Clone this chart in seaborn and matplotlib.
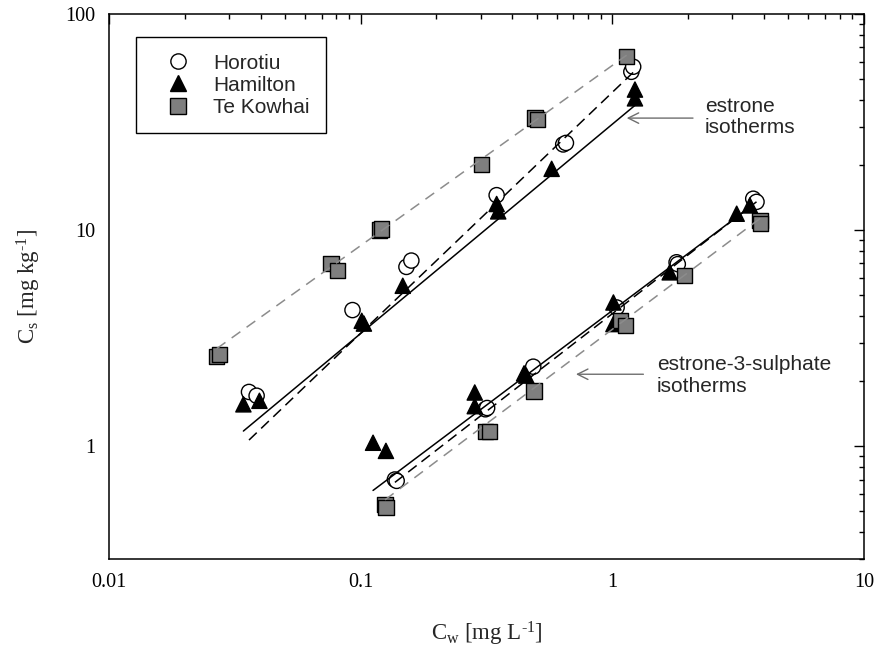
import numpy as np
import pandas as pd
import matplotlib
matplotlib.use("Agg")
import matplotlib.pyplot as plt
import matplotlib.ticker as mticker
from matplotlib.lines import Line2D
import seaborn as sns

# ---- measured sorption data: Cw [mg/L], Cs [mg/kg] ----
# estrone
hor_e1_cw = [0.036, 0.0386, 0.0928, 0.152, 0.159, 0.347, 0.638, 0.654, 1.19, 1.21]
hor_e1_cs = [1.78, 1.71, 4.26, 6.75, 7.22, 14.5, 24.9, 25.3, 54.0, 57.0]
ham_e1_cw = [0.0342, 0.0396, 0.101, 0.103, 0.147, 0.347, 0.352, 0.574, 1.23, 1.23]
ham_e1_cs = [1.56, 1.62, 3.80, 3.69, 5.52, 13.2, 12.2, 19.2, 44.7, 40.7]
tek_e1_cw = [0.0268, 0.0275, 0.0762, 0.0807, 0.119, 0.121, 0.303, 0.493, 0.505, 1.14]
tek_e1_cs = [2.59, 2.65, 6.97, 6.49, 10.0, 10.1, 20.1, 33.0, 32.6, 63.6]
# estrone-3-sulphate
hor_s_cw = [0.1368, 0.139, 0.313, 0.318, 0.485, 1.04, 1.80, 1.82, 3.63, 3.74]
hor_s_cs = [0.70, 0.69, 1.48, 1.50, 2.33, 4.38, 7.09, 6.95, 13.96, 13.5]
ham_s_cw = [0.112, 0.126, 0.284, 0.284, 0.446, 0.455, 1.01, 1.01, 1.69, 3.12, 3.52]
ham_s_cs = [1.036, 0.95, 1.77, 1.53, 2.17, 2.12, 4.62, 3.67, 6.37, 11.9, 13.0]
tek_s_cw = [0.125, 0.126, 0.313, 0.326, 0.488, 1.08, 1.13, 1.94, 3.86, 3.89]
tek_s_cs = [0.536, 0.52, 1.17, 1.17, 1.80, 3.80, 3.60, 6.15, 11.1, 10.7]

# Freundlich fits Cs = Kf * Cw^n  (order: Horotiu, Hamilton, Te Kowhai)
soils = ["Horotiu", "Hamilton", "Te Kowhai"]
kf_estrone = [43.4, 30.9, 57.8]
n_estrone = [1.115, 0.969, 0.834]
kf_sulphate = [4.10, 4.24, 3.47]
n_sulphate = [0.904, 0.876, 0.874]

x_ticks = [0.01, 0.1, 1, 10]
y_ticks = [1, 10, 100]

# ---- assemble tidy tables ----
series = {
    ("estrone", "Horotiu"): (hor_e1_cw, hor_e1_cs),
    ("estrone", "Hamilton"): (ham_e1_cw, ham_e1_cs),
    ("estrone", "Te Kowhai"): (tek_e1_cw, tek_e1_cs),
    ("sulphate", "Horotiu"): (hor_s_cw, hor_s_cs),
    ("sulphate", "Hamilton"): (ham_s_cw, ham_s_cs),
    ("sulphate", "Te Kowhai"): (tek_s_cw, tek_s_cs),
}
rows = []
for (comp, soil), (cw, cs) in series.items():
    for a, b in zip(cw, cs):
        rows.append({"compound": comp, "soil": soil, "Cw": a, "Cs": b})
df = pd.DataFrame(rows)

fits = {}
for i, s in enumerate(soils):
    fits[("estrone", s)] = (kf_estrone[i], n_estrone[i])
    fits[("sulphate", s)] = (kf_sulphate[i], n_sulphate[i])

# ---- styling ----
sns.set_style("white")
plt.rcParams["font.family"] = ["Liberation Serif", "DejaVu Serif"]
plt.rcParams["mathtext.fontset"] = "custom"
plt.rcParams["mathtext.rm"] = "Liberation Serif"
plt.rcParams["mathtext.it"] = "Liberation Serif:italic"

palette = {"Horotiu": "white", "Hamilton": "black", "Te Kowhai": "#7f7f7f"}
markers = {"Horotiu": "o", "Hamilton": "^", "Te Kowhai": "s"}
line_style = {
    "Horotiu": dict(color="black", linestyle=(0, (7, 4))),
    "Hamilton": dict(color="black", linestyle="-"),
    "Te Kowhai": dict(color="#8c8c8c", linestyle=(0, (7, 5))),
}

fig = plt.figure(figsize=(8.77, 6.5), dpi=100)
ax = fig.add_axes([109 / 877, 91 / 650, 755 / 877, 545 / 650])
ax.set_xscale("log")
ax.set_yscale("log")

sns.scatterplot(data=df, x="Cw", y="Cs", hue="soil", style="soil",
                hue_order=soils, style_order=soils,
                palette=palette, markers=markers, s=120,
                edgecolor="black", linewidth=1.0, legend=False,
                ax=ax, zorder=2)

# fitted isotherms over each data range
for (comp, soil), (k, n) in fits.items():
    cw = series[(comp, soil)][0]
    xs = np.geomspace(min(cw), max(cw), 60)
    sns.lineplot(x=xs, y=k * xs ** n, ax=ax, lw=1.1, zorder=3,
                 sort=False, estimator=None, **line_style[soil])

ax.set_xlim(0.01, 10)
ax.set_ylim(0.3, 100)
ax.set_xticks(x_ticks)
ax.set_yticks(y_ticks)
fmt = mticker.FuncFormatter(lambda v, p: f"{v:g}")
ax.xaxis.set_major_formatter(fmt)
ax.yaxis.set_major_formatter(fmt)
ax.xaxis.set_minor_formatter(mticker.NullFormatter())
ax.yaxis.set_minor_formatter(mticker.NullFormatter())
ax.tick_params(which="both", direction="in", top=True, right=True,
               width=1.0, colors="black", labelsize=14.5)
ax.tick_params(which="major", length=7, pad=10)
ax.tick_params(which="minor", length=3.5)
for sp in ax.spines.values():
    sp.set_color("black")
    sp.set_linewidth(1.1)

ax.set_xlabel(r"C$_{\mathrm{w}}$ [mg L$^{\text{-1}}$]", fontsize=16.5, labelpad=20)
ax.set_ylabel(r"C$_{\mathrm{s}}$ [mg kg$^{\text{-1}}$]", fontsize=16.5, labelpad=16)

# legend
handles = [Line2D([], [], linestyle="none", marker=markers[s], markersize=11,
                  markerfacecolor=palette[s], markeredgecolor="black",
                  markeredgewidth=1.0, label=s) for s in soils]
leg = ax.legend(handles=handles, loc="upper left",
                bbox_to_anchor=(0.0358, 0.958), borderaxespad=0,
                prop={"family": "Liberation Sans", "size": 15},
                frameon=True, fancybox=False, edgecolor="black",
                framealpha=1, borderpad=0.8, handlelength=2.4,
                handletextpad=0.5, labelspacing=0.15)
leg.get_frame().set_linewidth(1.0)

# callouts
arrow = dict(arrowstyle="->,head_length=0.5,head_width=0.25",
             color="#6e6e6e", lw=1.0, mutation_scale=15, shrinkA=0, shrinkB=0)
ax.annotate("", xy=(0.6857, 0.809), xytext=(0.7735, 0.809),
            xycoords="axes fraction", arrowprops=arrow)
ax.text(0.789, 0.8114, "estrone\nisotherms", transform=ax.transAxes,
        ha="left", va="center", family="Liberation Sans", fontsize=15,
        linespacing=1.15)
ax.annotate("", xy=(0.6185, 0.339), xytext=(0.7078, 0.339),
            xycoords="axes fraction", arrowprops=arrow)
ax.text(0.7254, 0.3367, "estrone-3-sulphate\nisotherms", transform=ax.transAxes,
        ha="left", va="center", family="Liberation Sans", fontsize=15,
        linespacing=1.15)

fig.savefig("out.png", dpi=100)
